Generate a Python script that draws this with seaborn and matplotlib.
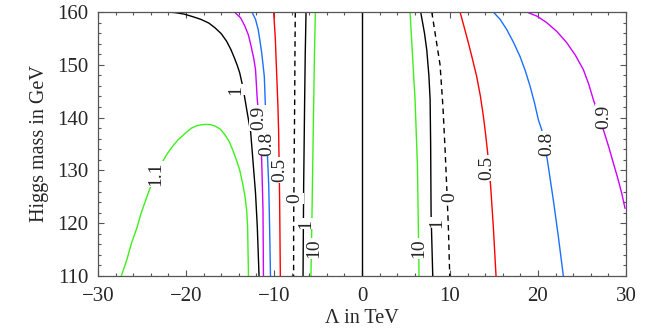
"""Contours of the Higgs-mass / Lambda plane."""
import matplotlib
matplotlib.use("Agg")
import matplotlib.pyplot as plt
from matplotlib.ticker import MultipleLocator
import seaborn as sns

# curves: Lambda (TeV) vs Higgs mass (GeV)
green_11_lam = [-27.35, -26.7, -26.2, -25.6, -25.1, -24.1, -23.2, -22.2, -21.5, -20.9, -20.1, -19.4,
                -18.7, -18.0, -17.3, -16.7, -16.1, -15.6, -15.1, -14.7, -14.3, -13.9, -13.6, -13.3,
                -13.1, -13.0, -12.9]
green_11_mh = [110.0, 113.2, 116.2, 119.0, 121.9, 126.6, 130.0, 133.0, 134.6, 135.8, 137.0, 138.0,
               138.5, 138.7, 138.7, 138.4, 137.8, 136.8, 135.5, 133.9, 132.1, 130.1, 127.8, 125.1,
               122.3, 119.4, 110.0]

black_1_left_lam = [-22.4, -21.3, -20.2, -19.2, -18.3, -17.4, -16.7, -16.0, -15.4, -14.9, -14.5, -14.2,
                    -13.9, -13.5, -13.1, -12.65, -12.4, -12.1, -11.9, -11.7]
black_1_left_mh = [160.0, 159.9, 159.6, 159.1, 158.6, 157.9, 157.0, 155.9, 154.5, 152.9, 151.3, 150.0,
                   148.5, 145.5, 141.5, 137.2, 132.0, 125.7, 119.4, 110.0]

magenta_09_left_lam = [-14.5, -13.8, -13.3, -12.9, -12.6, -12.3, -12.1, -11.9, -11.6, -11.4, -11.25, -11.2]
magenta_09_left_mh = [160.0, 158.9, 157.3, 155.6, 153.5, 151.2, 149.1, 143.4, 138.0, 132.0, 122.5, 110.0]

blue_08_left_lam = [-12.5, -12.1, -11.8, -11.6, -11.4, -11.1, -11.0, -10.8, -10.6, -10.5, -10.4]
blue_08_left_mh = [160.0, 158.6, 156.7, 154.6, 152.3, 147.8, 143.1, 135.0, 127.3, 119.4, 110.0]

red_05_left_lam = [-10.04, -9.85, -9.73, -9.55, -9.47, -9.36, -9.28]
red_05_left_mh = [160.0, 155.0, 149.7, 142.0, 137.0, 124.4, 110.0]

dash_0_left_lam = [-7.58, -7.62, -7.65, -7.72, -7.77, -7.77]
dash_0_left_mh = [160.0, 152.0, 143.0, 130.0, 119.0, 110.0]

black_1_near_lam = [-6.36, -6.45, -6.52, -6.63, -6.7]
black_1_near_mh = [160.0, 152.0, 143.0, 127.0, 110.0]

green_10_left_lam = [-5.30, -5.40, -5.49, -5.68, -5.8]
green_10_left_mh = [160.0, 152.0, 143.0, 122.0, 110.0]

green_10_right_lam = [5.46, 5.8, 6.03, 6.3, 6.41, 6.48]
green_10_right_mh = [160.0, 150.0, 143.4, 130.8, 118.7, 110.0]

black_1_right_lam = [6.67, 7.1, 7.36, 7.6, 7.74, 7.8, 7.85, 8.04]
black_1_right_mh = [160.0, 156.0, 152.8, 148.0, 143.4, 135.0, 121.8, 110.0]

dash_0_right_lam = [7.93, 8.4, 8.87, 9.2, 9.44, 9.65, 9.82, 9.97]
dash_0_right_mh = [160.0, 155.0, 150.0, 142.0, 134.0, 126.0, 119.0, 110.0]

red_05_right_lam = [11.14, 11.6, 12.08, 12.55, 13.03, 13.45, 13.79, 14.05, 14.28, 14.62, 14.92, 15.23]
red_05_right_mh = [160.0, 157.2, 154.2, 151.1, 147.8, 144.1, 140.3, 136.8, 133.3, 127.0, 119.4, 110.0]

blue_08_right_lam = [14.92, 15.7, 16.44, 17.2, 17.95, 18.55, 19.09, 19.6, 20.04, 20.42, 20.75, 21.06,
                     21.74, 22.31, 22.88]
blue_08_right_mh = [160.0, 158.6, 156.7, 154.3, 151.6, 148.9, 146.0, 142.8, 139.6, 137.7, 134.8, 132.0,
                    124.4, 117.5, 110.0]

magenta_09_right_lam = [18.71, 19.9, 20.98, 22.15, 23.26, 24.25, 25.15, 25.75, 26.29, 26.95, 27.6,
                        28.1, 28.56, 29.05, 29.51, 29.89]
magenta_09_right_mh = [160.0, 159.2, 158.0, 156.3, 154.2, 151.8, 149.1, 146.4, 143.4, 140.2, 136.8,
                       134.1, 131.4, 128.6, 125.7, 122.8]

zero_lam = [0.0, 0.0]
zero_mh = [110.0, 160.0]

# contour labels
label_text = ["1.1", "1", "0.9", "0.8", "0.5", "0", "1", "10",
              "10", "1", "0", "0.5", "0.8", "0.9"]
label_lam = [-23.4, -14.3, -11.75, -10.85, -9.3, -7.6, -6.45, -5.45,
             6.48, 8.45, 9.94, 14.2, 21.0, 27.5]
label_mh = [129.3, 145.3, 139.9, 135.1, 130.1, 124.7, 119.9, 115.2,
            115.2, 120.1, 125.0, 130.4, 135.1, 140.2]

GREEN = "#3cf01a"
RED = "#ff0000"
BLUE = "#1a70ff"
MAGENTA = "#cc00ff"
BLACK = "#000000"


def higgs_plot():
    sns.set_theme(style="ticks")
    plt.rcParams["font.family"] = ["Liberation Serif", "DejaVu Serif"]

    fig = plt.figure(figsize=(6.64, 3.32), dpi=100)
    # axes box placed to match the reference frame
    ax = fig.add_axes([98 / 664, 1 - 276 / 332, 528 / 664, 264 / 332])

    curves = [
        (green_11_lam, green_11_mh, GREEN, "-"),
        (black_1_left_lam, black_1_left_mh, BLACK, "-"),
        (magenta_09_left_lam, magenta_09_left_mh, MAGENTA, "-"),
        (blue_08_left_lam, blue_08_left_mh, BLUE, "-"),
        (red_05_left_lam, red_05_left_mh, RED, "-"),
        (dash_0_left_lam, dash_0_left_mh, BLACK, "--"),
        (black_1_near_lam, black_1_near_mh, BLACK, "-"),
        (green_10_left_lam, green_10_left_mh, GREEN, "-"),
        (zero_lam, zero_mh, BLACK, "-"),
        (green_10_right_lam, green_10_right_mh, GREEN, "-"),
        (black_1_right_lam, black_1_right_mh, BLACK, "-"),
        (dash_0_right_lam, dash_0_right_mh, BLACK, "--"),
        (red_05_right_lam, red_05_right_mh, RED, "-"),
        (blue_08_right_lam, blue_08_right_mh, BLUE, "-"),
        (magenta_09_right_lam, magenta_09_right_mh, MAGENTA, "-"),
    ]
    for lam, mh, col, ls in curves:
        sns.lineplot(x=lam, y=mh, sort=False, estimator=None, color=col,
                     linewidth=1.0, ax=ax, zorder=2)
        if ls == "--":
            ax.lines[-1].set_dashes((4, 3))

    # contour labels sit on white boxes that break the lines
    for txt, lx, ly in zip(label_text, label_lam, label_mh):
        ax.text(lx, ly, txt, rotation=90, ha="center", va="center", fontsize=14,
                zorder=3, bbox=dict(facecolor="white", edgecolor="none", pad=0.5))

    ax.set_xlim(-30, 30)
    ax.set_ylim(110, 160)
    ax.xaxis.set_major_locator(MultipleLocator(10))
    ax.xaxis.set_minor_locator(MultipleLocator(2))
    ax.yaxis.set_major_locator(MultipleLocator(10))
    ax.yaxis.set_minor_locator(MultipleLocator(2))
    ax.tick_params(which="both", direction="in", top=True, right=True,
                   color="#555555", labelsize=15, width=0.8)
    ax.tick_params(which="major", length=4.5, pad=8)
    ax.tick_params(which="minor", length=2.2)
    ax.tick_params(axis="y", which="major", pad=7)
    for sp in ax.spines.values():
        sp.set_color("#555555")
        sp.set_linewidth(0.9)

    ax.set_xlabel("Λ in TeV", fontsize=14.5, labelpad=2)
    ax.set_ylabel("Higgs mass in GeV", fontsize=14.5, labelpad=6)

    fig.savefig("out.png", dpi=100)


if __name__ == "__main__":
    higgs_plot()
